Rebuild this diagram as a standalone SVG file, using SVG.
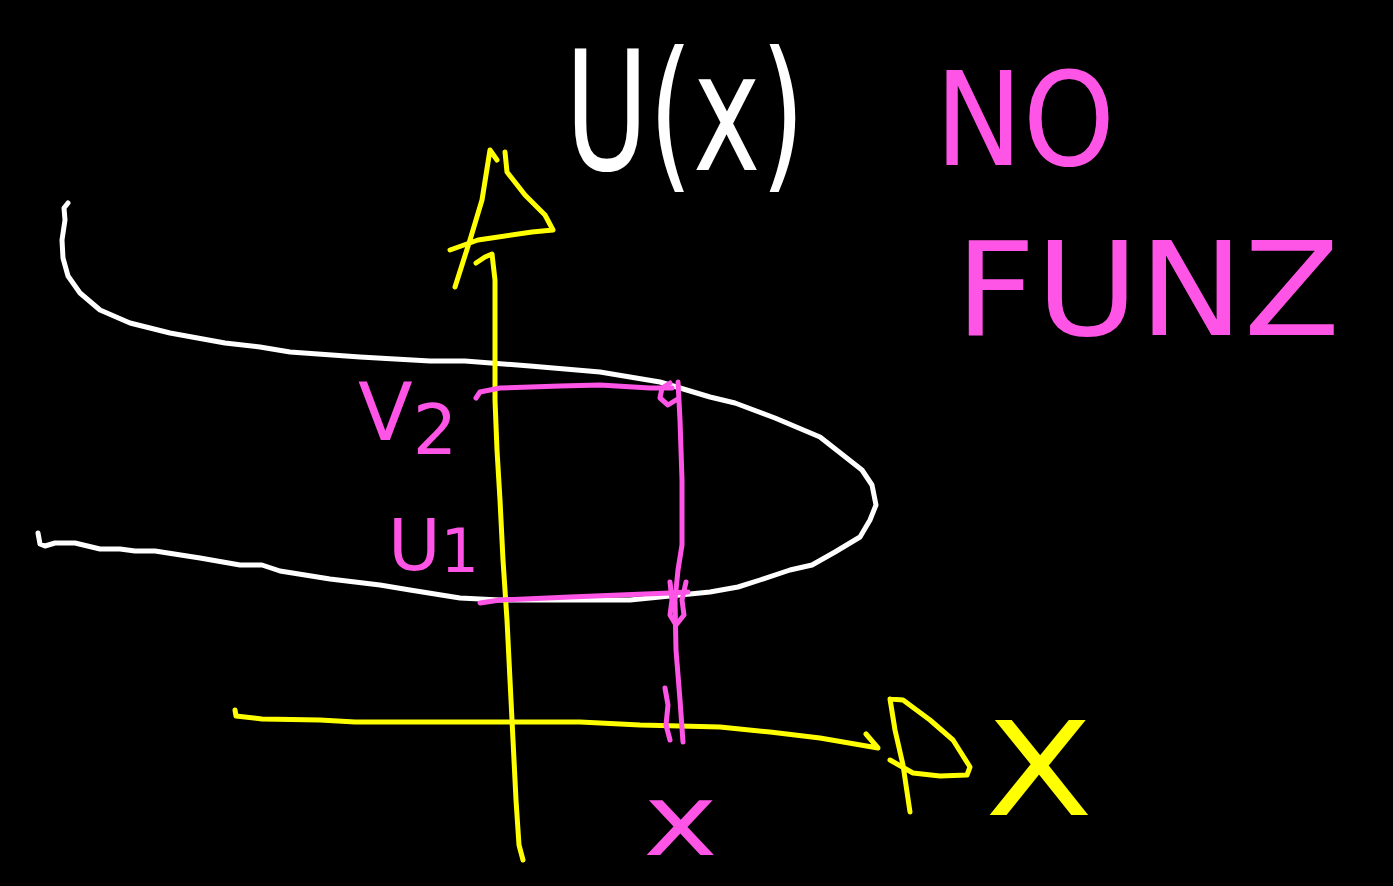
<svg xmlns="http://www.w3.org/2000/svg" width="1393" height="886" viewBox="0 0 1393 886">
<style>
.w{fill:none;stroke:#ffffff;stroke-width:5;stroke-linecap:round;stroke-linejoin:round}
.y{fill:none;stroke:#ffff00;stroke-width:5;stroke-linecap:round;stroke-linejoin:round}
.p{fill:none;stroke:#ff55e6;stroke-width:5;stroke-linecap:round;stroke-linejoin:round}
.t{font-family:"DejaVu Sans","Liberation Sans",sans-serif;font-weight:normal}
</style>
<rect width="1393" height="886" fill="#000000"/>
<g id="curve">
<path class="w" d="M68,203 L64,208 L65,220 L62,240 L63,258 L68,276 L80,293 L100,310 L130,323 L170,333 L225,343 L260,347 L290,352 L360,357 L430,361 L465,361 L530,366 L600,372 L660,382 L710,397 L735,403 L775,418 L820,437 L862,470 L872,485 L876,505 L870,520 L860,537 L835,552 L812,565 L790,570 L760,580 L738,587 L710,592 L680,595 L630,600 L570,600 L500,600 L460,598 L410,590 L380,585 L330,579 L280,571 L262,565 L240,565 L200,558 L155,551 L135,551 L120,549 L100,549 L75,543 L55,543 L45,546 L40,544 L38,533"/>
</g>
<g id="axes">
<path class="y" d="M476,263 L485,257 L492,254 L495,280 L495,330 L495,400 L497,450 L500,500 L503,560 L507,620 L510,680 L513,740 L516,800 L519,845 L523,860"/>
<path class="y" d="M455,287 L470,240 L482,200 L490,150 L497,160 M505,152 L507,172 L525,195 L545,215 L553,230 L532,232 L478,240 L450,250"/>
<path class="y" d="M235,710 L236,716 L262,719 L320,720 L355,722 L450,722 L580,722 L640,725 L720,727 L770,732 L820,738 L878,748 L866,734"/>
<path class="y" d="M890,699 L895,730 L903,765 L910,812 M890,699 L903,700 L930,720 L953,740 L970,767 L967,775 L940,776 L913,773 L890,760"/>
</g>
<g id="levels">
<path class="p" d="M476,398 L480,392 L500,388 L560,386 L600,385 L650,388 L672,388"/>
<path class="p" d="M670,383 L662,388 L660,398 L668,405 L676,400 M678,382 L680,420 L682,480 L682,545 L678,570 L675,600 L676,650 L680,700 L683,742"/>
<path class="p" d="M480,603 L500,600 L570,597 L620,595 L670,593 L688,592"/>
<path class="p" d="M670,582 L672,600 L670,615 L676,625 L684,615 L682,600 L686,582"/>
<path class="p" d="M665,688 L668,705 L666,725 L670,740"/>
</g>
<g id="labels">
<text class="t" x="565" y="170" font-size="165" fill="#ffffff" textLength="240" lengthAdjust="spacingAndGlyphs">U(x)</text>
<text class="t" x="935" y="165" font-size="130" fill="#ff55e6" textLength="180" lengthAdjust="spacingAndGlyphs">NO</text>
<text class="t" x="955" y="335" font-size="130" fill="#ff55e6" textLength="385" lengthAdjust="spacingAndGlyphs">FUNZ</text>
<text class="t" x="358" y="440" font-size="80" fill="#ff55e6">V<tspan font-size="70" dy="14">2</tspan></text>
<text class="t" x="388" y="570" font-size="72" fill="#ff55e6">U<tspan font-size="60" dy="2">1</tspan></text>
<text class="t" x="985" y="815" font-size="130" fill="#ffff00" textLength="108" lengthAdjust="spacingAndGlyphs">X</text>
<text class="t" x="643" y="855" font-size="100" fill="#ff55e6" textLength="75" lengthAdjust="spacingAndGlyphs">x</text>
</g>
</svg>
